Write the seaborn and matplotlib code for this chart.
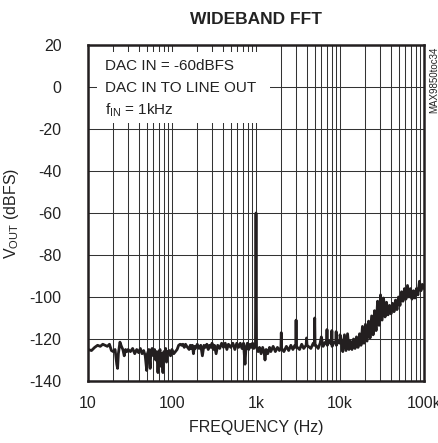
import numpy as np
import pandas as pd
import matplotlib
matplotlib.use("Agg")
import matplotlib.pyplot as plt
import matplotlib.ticker as mticker
from matplotlib.patches import Rectangle
import seaborn as sns

# noise floor 10 Hz .. 1 kHz
floor_lo_hz = [10, 11, 12, 13, 14, 15, 16, 17, 18, 19, 20, 21, 22, 22.5, 23, 24, 25, 26, 27, 28, 29,
               30, 32, 34, 36, 38, 40, 42, 44, 46, 48, 50, 51, 53, 55, 56, 58, 60, 62, 64, 66, 68, 70,
               72, 74, 76, 78, 80, 82, 84, 86, 88, 90, 93, 96,
               100, 105, 110, 115, 120, 125, 130, 135, 140, 145, 150, 160, 165, 170, 175, 180, 185, 190,
               200, 210, 220, 230, 240, 250, 260, 270, 280, 290, 300, 310, 320, 335, 350, 370, 390, 410,
               430, 450, 470, 500, 530, 560, 590, 620, 650, 680, 710, 740, 760, 790, 820, 850, 880, 910,
               940, 970]
floor_lo_db = [-125, -125.5, -124, -123, -123.5, -122.5, -123, -123.5, -122.5, -125.5, -126, -125, -132, -134,
               -127, -121.5, -123.5, -125, -128, -125, -126,
               -125, -126, -124.5, -127, -125, -126.5, -124.5, -127, -125.5, -128, -135, -127, -125, -134,
               -126, -124.5, -128, -125, -130, -126, -136, -127,
               -125, -133, -127, -136, -126, -128, -124.5, -131, -126, -127, -125.5, -128,
               -125, -127, -126, -125, -123, -122.5, -123, -122.5, -124, -122.5, -123.5, -125, -123, -124.5,
               -123, -127, -123.5, -124.5,
               -122.5, -124.5, -123, -128, -123, -124, -122.5, -125, -123, -124, -122, -125, -123, -127,
               -123, -124.5, -122, -124,
               -122, -125, -122.5, -124, -122, -125, -122, -124, -122, -124.5, -122, -132, -124, -122,
               -125, -122.5, -124, -122,
               -124.5, -123]

# 1 kHz test tone
tone_hz = [985, 1000, 1015]
tone_db = [-123.5, -60, -124]

# floor with harmonics 1 kHz .. 10 kHz
floor_mid_hz = [1060, 1100, 1150, 1200, 1250, 1280, 1320, 1380, 1450, 1500, 1600, 1700, 1800, 1900,
                1980, 2000, 2020, 2150, 2300, 2450, 2600, 2750, 2900, 2980, 3000, 3020, 3300, 3500,
                3700, 3950, 4000, 4050, 4500, 4800, 4950, 5000, 5050, 5500, 5800, 6000, 6300, 6700,
                6950, 7000, 7050, 7500, 7950, 8000, 8050, 8500, 8950, 9000, 9050, 9500, 9950, 10000]
floor_mid_db = [-126, -124, -127, -124, -126.5, -130, -125, -127, -124, -126, -123.5, -126, -124, -125.5,
                -124, -117, -124.5, -126, -123.5, -125.5, -123, -125, -123, -124, -111, -123.5, -125, -122.5,
                -124.5, -123, -119.5, -123, -124.5, -122, -123, -110, -122.5, -124.5, -122, -119, -123.5, -121.5,
                -122, -115.5, -123, -121, -122.5, -116, -123.5, -121.5, -122, -116.5, -123, -121, -122, -118]

# rising floor 10 kHz .. 100 kHz
floor_hi_hz = [10400, 10800, 11300, 11800, 12300, 12800, 13300, 13900, 14500, 15100, 15700, 16400,
               17100, 17800, 18500, 19300, 20100, 21000, 21900, 22800, 23800, 24800, 25800, 26900,
               28000, 29200, 30400, 31700, 33000, 34400, 35800, 37300, 38900, 40500, 42200, 44000,
               45800, 47700, 49700, 51800, 54000, 56200, 58600, 61000, 63600, 66300, 69000, 71900,
               74900, 78100, 81300, 84700, 88300, 92000, 95800, 100000]
floor_hi_db = [-121, -126, -118, -125.5, -117.5, -125, -121, -125, -120, -124.5, -119, -124,
               -117.5, -123, -114, -122, -113, -121, -111.5, -119.5, -109, -118, -106.5, -116,
               -102, -113.5, -99, -111, -100.5, -109.5, -102.5, -108.5, -104, -108, -103, -107,
               -101.5, -106, -100, -104, -97.5, -102, -96, -101, -94.5, -100, -96, -101,
               -97, -100.5, -96, -99, -92.5, -97, -94, -96]

y_ticks = [-140, -120, -100, -80, -60, -40, -20, 0, 20]
x_ticks = [10, 100, 1000, 10000, 100000]
x_tick_labels = ["10", "100", "1k", "10k", "100k"]

df = pd.DataFrame({
    "freq": floor_lo_hz + tone_hz + floor_mid_hz + floor_hi_hz,
    "level": floor_lo_db + tone_db + floor_mid_db + floor_hi_db,
})

sns.set_theme(style="white")
plt.rcParams["font.family"] = ["Liberation Sans", "DejaVu Sans"]
plt.rcParams["mathtext.fontset"] = "custom"
plt.rcParams["mathtext.rm"] = "Liberation Sans"
plt.rcParams["mathtext.it"] = "Liberation Sans:italic"
plt.rcParams["mathtext.bf"] = "Liberation Sans:bold"

fig = plt.figure(figsize=(4.39, 4.43), dpi=100)
ax = fig.add_axes([88 / 439, 62 / 443, 336 / 439, 336 / 443])

ink = "#231f20"
sns.lineplot(data=df, x="freq", y="level", ax=ax, estimator=None, sort=False,
             color=ink, linewidth=2.0, zorder=3)

ax.set_xscale("log")
ax.set_xlim(10, 100000)
ax.set_ylim(-140, 20)
ax.set_yticks(y_ticks)
ax.set_yticklabels([str(v) for v in y_ticks])
ax.xaxis.set_major_locator(mticker.FixedLocator(x_ticks))
ax.xaxis.set_major_formatter(mticker.FixedFormatter(x_tick_labels))
ax.xaxis.set_minor_locator(mticker.LogLocator(base=10, subs=range(2, 10)))
ax.xaxis.set_minor_formatter(mticker.NullFormatter())
ax.tick_params(axis="both", which="both", length=0, labelsize=11.5, colors="#222222")
ax.tick_params(axis="x", pad=11)
ax.tick_params(axis="y", pad=19)

ax.set_axisbelow(True)
ax.grid(True, which="both", axis="x", color="#333333", linewidth=0.75)
ax.grid(True, which="major", axis="y", color="#333333", linewidth=0.75)
for s in ax.spines.values():
    s.set_color(ink)
    s.set_linewidth(1.8)

# white box behind the notes
ax.add_patch(Rectangle((0.027, 0.768), 0.515, 0.211, transform=ax.transAxes,
                       facecolor="white", edgecolor="none", zorder=1))
note_kw = dict(transform=ax.transAxes, fontsize=11, color="#222222", va="baseline", ha="left", zorder=4)
ax.text(0.051, 0.926, "DAC IN = -60dBFS", **note_kw)
ax.text(0.051, 0.860, "DAC IN TO LINE OUT", **note_kw)
ax.text(0.051, 0.792, r"f$_{\mathrm{IN}}$ = 1kHz", **note_kw)

ax.set_xlabel("FREQUENCY (Hz)", fontsize=11.5, color="#222222")
ax.set_ylabel(r"V$_{\mathrm{OUT}}$ (dBFS)", fontsize=11.5, color="#222222")
ax.xaxis.set_label_coords(0.5, -0.116)
ax.yaxis.set_label_coords(-0.2, 0.5)

fig.text(256 / 439, 1 - 19 / 443, "WIDEBAND FFT", ha="center", va="center",
         fontsize=12.5, fontweight="bold", color="#222222")
fig.text(434 / 439, 1 - 47 / 443, "MAX9850toc34", ha="center", va="top",
         rotation=90, fontsize=7, color="#222222")

fig.savefig("out.png", dpi=100)
